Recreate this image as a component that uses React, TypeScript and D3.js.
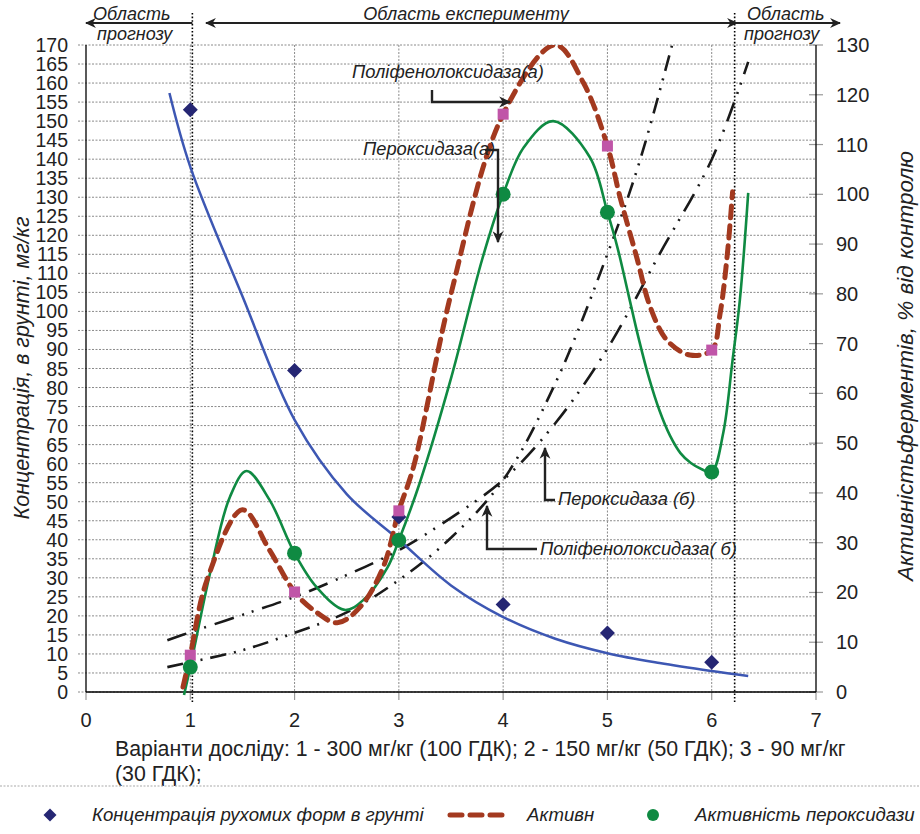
import React from "react";
import * as d3 from "d3";

// ---------- data ----------
const variants = [1, 2, 3, 4, 5, 6];
const concentration = [153, 84.5, 46, 23, 15.5, 7.8]; // left axis, mg/kg
const polyphenolA = [7.4, 20.1, 36.4, 116.1, 109.7, 68.7]; // right axis, %
const peroxidaseA = [5, 27.9, 30.5, 100, 96.4, 44.2]; // right axis, %

// trend of concentration (left axis)
const concTrendX = [0.8, 1.0, 1.5, 2.0, 2.5, 3.0, 3.5, 4.0, 4.5, 5.0, 5.5, 6.0, 6.35];
const concTrendY = [157.4, 138, 104, 71.5, 52, 40, 28, 19.7, 14, 10.2, 7.6, 5.5, 4.2];

// smoothed polyphenol oxidase (a) line (right axis)
const polyCurveX = [0.93, 1.0, 1.16, 1.5, 1.76, 2.0, 2.18, 2.41, 2.63, 2.85, 3.0, 3.14, 3.5, 4.0, 4.5, 4.77, 5.0, 5.12, 5.28, 5.41, 5.57, 5.79, 6.0, 6.08, 6.15, 6.2];
const polyCurveY = [1, 7.4, 22.5, 36.6, 28.5, 20.1, 16.5, 13.9, 17.1, 25.1, 36.4, 45.2, 80, 116.1, 130, 122.4, 109.7, 99.5, 87.4, 77.4, 70.7, 67.7, 68.7, 76, 88, 100.5];

// smoothed peroxidase (a) line (right axis)
const peroxCurveX = [0.94, 1.0, 1.19, 1.38, 1.54, 1.76, 2.0, 2.21, 2.48, 2.66, 2.89, 3.0, 3.2, 3.5, 3.8, 4.0, 4.2, 4.48, 4.83, 5.0, 5.1, 5.2, 5.3, 5.4, 5.5, 5.6, 5.7, 5.8, 5.9, 6.0, 6.11, 6.2, 6.27, 6.35];
const peroxCurveY = [-0.6, 5, 23.9, 39.2, 44.4, 38.6, 27.9, 21.1, 16.5, 18.5, 25, 30.5, 42, 63, 87, 100, 109.5, 114.7, 107.5, 96.4, 89, 80, 71, 63, 56.5, 51.5, 48, 46, 44.8, 44.2, 52, 66.7, 78.8, 100.3];

// forecast trend (б) lines (right axis)
const peroxTrendX = [0.78, 1, 1.5, 2, 2.5, 3, 3.5, 4, 4.5, 5, 5.5, 6, 6.35];
const peroxTrendY = [10.4, 12, 15.5, 19.1, 23.5, 28.5, 35, 42.6, 54, 69, 88, 107, 126.6];
const polyTrendX = [0.78, 1, 1.5, 2, 2.5, 3, 3.5, 4, 4.5, 5, 5.3, 5.62];
const polyTrendY = [5, 6, 8.4, 11.9, 16, 22.5, 31, 42.6, 62, 88, 106, 130];

const xTicks = [0, 1, 2, 3, 4, 5, 6, 7];
const leftTicks = [0, 5, 10, 15, 20, 25, 30, 35, 40, 45, 50, 55, 60, 65, 70, 75, 80, 85, 90, 95, 100, 105, 110, 115, 120, 125, 130, 135, 140, 145, 150, 155, 160, 165, 170];
const rightTicks = [0, 10, 20, 30, 40, 50, 60, 70, 80, 90, 100, 110, 120, 130];
const forecastBounds = [1.02, 6.22];

const FONT = "'Liberation Sans', Arial, sans-serif";

export default function App() {
  const W = 920, H = 834;
  const left = 86, right = 816, top = 45, bottom = 692;
  const x = d3.scaleLinear().domain([0, 7]).range([left, right]);
  const yL = d3.scaleLinear().domain([0, 170]).range([bottom, top]);
  const yR = d3.scaleLinear().domain([0, 130]).range([bottom, top]);

  const lineR = (xs: number[], ys: number[]) =>
    d3.line<number>().x((_, i) => x(xs[i])).y((_, i) => yR(ys[i])).curve(d3.curveCatmullRom.alpha(0.5))(xs) || "";
  const lineL = (xs: number[], ys: number[]) =>
    d3.line<number>().x((_, i) => x(xs[i])).y((_, i) => yL(ys[i])).curve(d3.curveCatmullRom.alpha(0.5))(xs) || "";

  const gridColor = "#8a8a8a";
  const navy = "#252673";
  const blue = "#3d57b3";
  const brown = "#a3391f";
  const pink = "#c055a8";
  const green = "#0f8a42";
  const ink = "#222";
  const annFont = 18.3;
  const legFont = 18.6;

  const diamond = (cx: number, cy: number, r: number) => `M${cx},${cy - r}L${cx + r},${cy}L${cx},${cy + r}L${cx - r},${cy}Z`;

  return (
    <svg width={W} height={H} viewBox={`0 0 ${W} ${H}`} style={{ display: "block", position: "absolute", left: 0, top: 0, background: "#fff" }} fontFamily={FONT}>
      <defs>
        <marker id="ah" viewBox="0 0 10 10" refX="9" refY="5" markerWidth="5" markerHeight="5" orient="auto-start-reverse">
          <path d="M0,0.5 L10,5 L0,9.5 L3,5 Z" fill={ink} />
        </marker>
        <clipPath id="plot">
          <rect x={left - 10} y={top} width={right - left + 20} height={bottom - top + 6} />
        </clipPath>
      </defs>

      {/* horizontal grid */}
      {leftTicks.map((t) => (
        <line key={"h" + t} x1={78} x2={right} y1={yL(t)} y2={yL(t)} stroke={gridColor} strokeWidth={1} strokeDasharray="2,1.5" />
      ))}
      {/* vertical grid */}
      {variants.map((v) => (
        <line key={"v" + v} x1={x(v)} x2={x(v)} y1={top} y2={bottom} stroke={gridColor} strokeWidth={1} strokeDasharray="2,1.5" />
      ))}
      {/* x ticks */}
      {xTicks.map((t) => (
        <line key={"xt" + t} x1={x(t)} x2={x(t)} y1={bottom} y2={bottom + 8} stroke="#999" strokeWidth={1.2} />
      ))}
      {/* right ticks */}
      {rightTicks.map((t) => (
        <line key={"rt" + t} x1={right - 7} x2={right + 7} y1={yR(t)} y2={yR(t)} stroke="#999" strokeWidth={1.2} />
      ))}

      {/* axes */}
      <line x1={left} x2={left} y1={top} y2={bottom} stroke="#000" strokeWidth={1.3} />
      <line x1={right} x2={right} y1={top} y2={bottom} stroke="#000" strokeWidth={1.3} />
      <line x1={left} x2={right} y1={bottom} y2={bottom} stroke="#000" strokeWidth={1.3} />

      {/* forecast boundary lines */}
      {forecastBounds.map((b) => (
        <line key={"fb" + b} x1={x(b)} x2={x(b)} y1={13} y2={702} stroke="#000" strokeWidth={1.6} strokeDasharray="1.6,2" />
      ))}

      {/* tick labels */}
      {leftTicks.map((t) => (
        <text key={"lt" + t} x={68} y={yL(t) + 7} textAnchor="end" fontSize={19.5} fill="#222">{t}</text>
      ))}
      {rightTicks.map((t) => (
        <text key={"rl" + t} x={836} y={yR(t) + 7} fontSize={20} fill="#222">{t}</text>
      ))}
      {xTicks.map((t) => (
        <text key={"xl" + t} x={x(t)} y={727} textAnchor="middle" fontSize={20} fill="#222">{t}</text>
      ))}

      {/* axis titles */}
      <text transform={`translate(29,${368}) rotate(-90)`} textAnchor="middle" fontSize={21.5} fontStyle="italic" fill="#222">
        Концентрація, в грунті, мг/кг
      </text>
      <text transform={`translate(913,${366}) rotate(-90)`} textAnchor="middle" fontSize={22.5} fontStyle="italic" fill="#222">
        Активністьферментів, % від контролю
      </text>
      <text x={115} y={756} fontSize={21.3} fill="#222">
        Варіанти досліду: 1 - 300 мг/кг (100 ГДК); 2 - 150 мг/кг (50 ГДК); 3 - 90 мг/кг
      </text>
      <text x={115} y={781} fontSize={21.3} fill="#222">(30 ГДК);</text>

      <g clipPath="url(#plot)">
        {/* trend (б) lines */}
        <path d={lineR(peroxTrendX, peroxTrendY)} fill="none" stroke="#1a1a1a" strokeWidth={2.6} strokeDasharray="20,9,2,8,2,9" />
        <path d={lineR(polyTrendX, polyTrendY)} fill="none" stroke="#1a1a1a" strokeWidth={2.6} strokeDasharray="16,8,2,8,2,8" />
        {/* concentration trend */}
        <path d={lineL(concTrendX, concTrendY)} fill="none" stroke={blue} strokeWidth={2.5} />
        {/* peroxidase curve */}
        <path d={lineR(peroxCurveX, peroxCurveY)} fill="none" stroke={green} strokeWidth={2.6} />
        {/* polyphenol oxidase curve */}
        <path d={lineR(polyCurveX, polyCurveY)} fill="none" stroke={brown} strokeWidth={5} strokeDasharray="12,8" strokeLinecap="round" />
      </g>

      {/* points */}
      {variants.map((v, i) => (
        <path key={"d" + v} d={diamond(x(v), yL(concentration[i]), 7.5)} fill={navy} />
      ))}
      {variants.map((v, i) => (
        <rect key={"s" + v} x={x(v) - 5.5} y={yR(polyphenolA[i]) - 5.5} width={11} height={11} fill={pink} />
      ))}
      {variants.map((v, i) => (
        <circle key={"c" + v} cx={x(v)} cy={yR(peroxidaseA[i])} r={7.5} fill={green} />
      ))}

      {/* top region annotations */}
      <line x1={x(forecastBounds[0])} x2={86} y1={23} y2={23} stroke={ink} strokeWidth={2.2} markerEnd="url(#ah)" />
      <line x1={206} x2={737} y1={23} y2={23} stroke={ink} strokeWidth={2.2} markerStart="url(#ah)" markerEnd="url(#ah)" />
      <line x1={x(forecastBounds[1])} x2={840} y1={23} y2={23} stroke={ink} strokeWidth={2.2} markerEnd="url(#ah)" />
      <text x={93} y={20} fontSize={18} fontStyle="italic" fill="#222">Область</text>
      <text x={97} y={40} fontSize={18} fontStyle="italic" fill="#222">прогнозу</text>
      <text x={466} y={20} fontSize={18} fontStyle="italic" fill="#222" textAnchor="middle">Область експерименту</text>
      <text x={747} y={20} fontSize={18} fontStyle="italic" fill="#222">Область</text>
      <text x={744} y={40} fontSize={18} fontStyle="italic" fill="#222">прогнозу</text>

      {/* series callouts */}
      <text x={352} y={78} fontSize={annFont} fontStyle="italic" fill="#222">Поліфенолоксидаза(а)</text>
      <path d="M432,90 V102 H510" fill="none" stroke={ink} strokeWidth={2.4} markerEnd="url(#ah)" />
      <text x={363} y={155} fontSize={annFont} fontStyle="italic" fill="#222">Пероксидаза(а)</text>
      <path d="M485,150 H498 V242" fill="none" stroke={ink} strokeWidth={2.4} markerEnd="url(#ah)" />
      <text x={558} y={505} fontSize={annFont} fontStyle="italic" fill="#222">Пероксидаза (б)</text>
      <path d="M555,500 H545 V448" fill="none" stroke={ink} strokeWidth={2.4} markerEnd="url(#ah)" />
      <text x={540} y={555} fontSize={annFont} fontStyle="italic" fill="#222">Поліфенолоксидаза( б)</text>
      <path d="M537,549 H487 V506" fill="none" stroke={ink} strokeWidth={2.4} markerEnd="url(#ah)" />

      {/* separator */}
      <line x1={0} x2={W} y1={786} y2={786} stroke="#aaa" strokeWidth={1.2} strokeDasharray="2,1.5" />

      {/* legend */}
      <path d={diamond(50, 815, 6.5)} fill={navy} />
      <text x={92} y={821} fontSize={legFont} fontStyle="italic" fill="#222">Концентрація рухомих форм в грунті</text>
      <line x1={450} x2={510} y1={815} y2={815} stroke={brown} strokeWidth={5} strokeDasharray="12,8" strokeLinecap="round" />
      <text x={527} y={821} fontSize={legFont} fontStyle="italic" fill="#222">Активн</text>
      <circle cx={653} cy={815} r={6} fill={green} />
      <text x={695} y={821} fontSize={legFont} fontStyle="italic" fill="#222">Активність пероксидази</text>
    </svg>
  );
}
